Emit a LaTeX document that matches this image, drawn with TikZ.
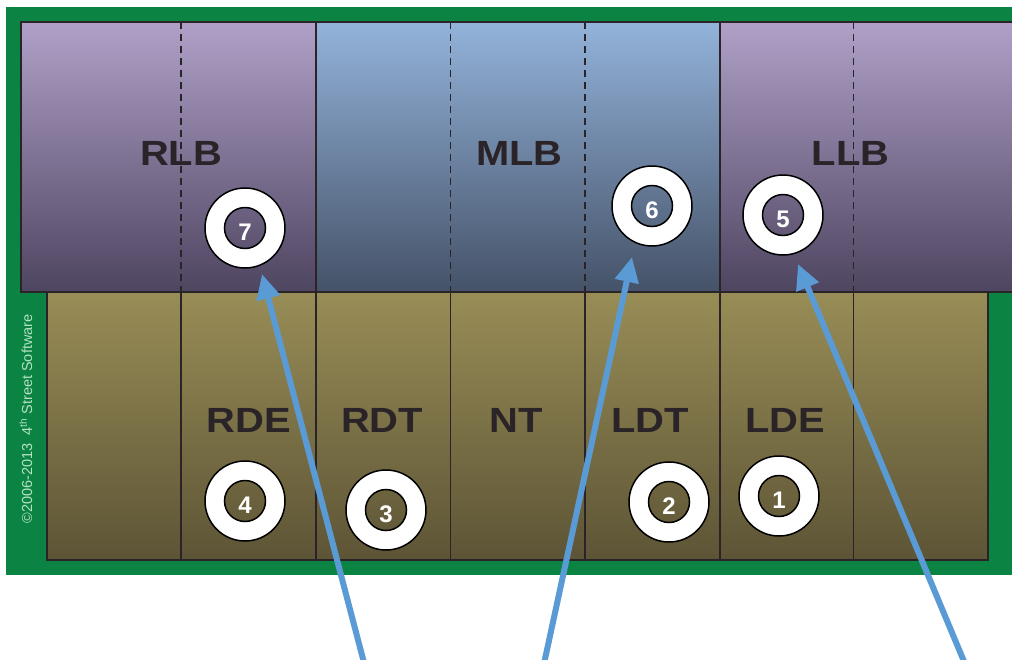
\documentclass[tikz,border=0pt]{standalone}
\usepackage{fontspec}
\setmainfont{Liberation Sans}
\usepackage{graphicx}
\usetikzlibrary{arrows.meta}

\definecolor{field}{HTML}{0B8342}
\definecolor{lbtop}{HTML}{B0A0C8}
\definecolor{lbmid}{HTML}{8C7DA2}
\definecolor{lbbot}{HTML}{4E4560}
\definecolor{mbtop}{HTML}{93B3DA}
\definecolor{mbmid}{HTML}{6F86A6}
\definecolor{mbbot}{HTML}{455268}
\definecolor{dltop}{HTML}{988D56}
\definecolor{dlmid}{HTML}{7C7146}
\definecolor{dlbot}{HTML}{5D5436}
\definecolor{ink}{HTML}{2A2327}
\definecolor{pointer}{HTML}{5B9BD5}
\definecolor{credit}{HTML}{B4E2C2}

\begin{document}
\begin{tikzpicture}[x=1pt,y=-1pt,
  cellline/.style={draw=ink,line width=1.8pt},
  zoneline/.style={draw=ink,line width=1.8pt,dash pattern=on 7pt off 5pt},
  zonelabel/.style={anchor=base,inner sep=0pt,text=ink,
    font=\bfseries\fontsize{35}{35}\selectfont},
  ringstyle/.style={fill=white,draw=black,line width=1.5pt,even odd rule},
  numlabel/.style={anchor=base,inner sep=0pt,text=white,
    font=\bfseries\fontsize{24}{24}\selectfont},
  pointerline/.style={draw=pointer,line width=6pt,
    -{Triangle[length=25pt,width=23pt]}},
]
\useasboundingbox (0,0) rectangle (1012,659);

% playing field
\fill[field] (6,7) rectangle (1012,575);

% linebacker band
\shade[top color=lbtop, middle color=lbmid, bottom color=lbbot] (21,22) rectangle (316,292);
\shade[top color=mbtop, middle color=mbmid, bottom color=mbbot] (316,22) rectangle (720,292);
\shade[top color=lbtop, middle color=lbmid, bottom color=lbbot] (720,22) rectangle (1012,292);

% defensive line band
\shade[top color=dltop, middle color=dlmid, bottom color=dlbot] (47,292) rectangle (988,560);

% outlines
\draw[cellline] (1013,22) -- (21,22) -- (21,292) -- (1013,292);
\draw[cellline] (316,22) -- (316,292) (720,22) -- (720,292);
\draw[cellline] (47,292) rectangle (988,560);
\foreach \x in {181,316,450.5,585,720,853.5}
  \draw[cellline] (\x,292) -- (\x,560);
\foreach \x in {181,450.5,585,853.5}
  \draw[zoneline] (\x,22) -- (\x,292);

% zone labels
\node[zonelabel] (rlb) at (181,165) {\scalebox{1.14}[1]{RLB}};
\node[zonelabel] (mlb) at (519.5,165) {\scalebox{1.14}[1]{MLB}};
\node[zonelabel] (llb) at (850.5,165) {\scalebox{1.14}[1]{LLB}};
\node[zonelabel] (rde) at (249,432) {\scalebox{1.14}[1]{RDE}};
\node[zonelabel] (rdt) at (382,432) {\scalebox{1.14}[1]{RDT}};
\node[zonelabel] (nt)  at (516,432) {\scalebox{1.14}[1]{NT}};
\node[zonelabel] (ldt) at (650,432) {\scalebox{1.14}[1]{LDT}};
\node[zonelabel] (lde) at (785,432) {\scalebox{1.14}[1]{LDE}};

% numbered player markers
\foreach \n/\x/\y in {1/779/496, 2/669/502, 3/386/510, 4/245/501,
                      5/783/215, 6/652/206, 7/245/228} {
  \coordinate (c\n) at (\x,\y);
  \path[ringstyle] (c\n) circle[radius=40] (c\n) circle[radius=20.5];
  \node[numlabel] (n\n) at (\x,{\y+12}) {\n};
}

% copyright notice
\node[rotate=90,inner sep=0pt,text=credit,font=\fontsize{14.5}{14.5}\selectfont]
  (credit) at (26,419) {\textcopyright2006-2013\ \ 4\textsuperscript{th} Street Software};

% pointers
\coordinate (tailA) at (364.6,665);
\coordinate (tipA)  at (262,274);
\coordinate (tailB) at (543.7,665);
\coordinate (tipB)  at (632,257);
\coordinate (tailC) at (965.5,665);
\coordinate (tipC)  at (798,264);
\draw[pointerline] (tailA) -- (tipA);
\draw[pointerline] (tailB) -- (tipB);
\draw[pointerline] (tailC) -- (tipC);
\end{tikzpicture}
\end{document}
